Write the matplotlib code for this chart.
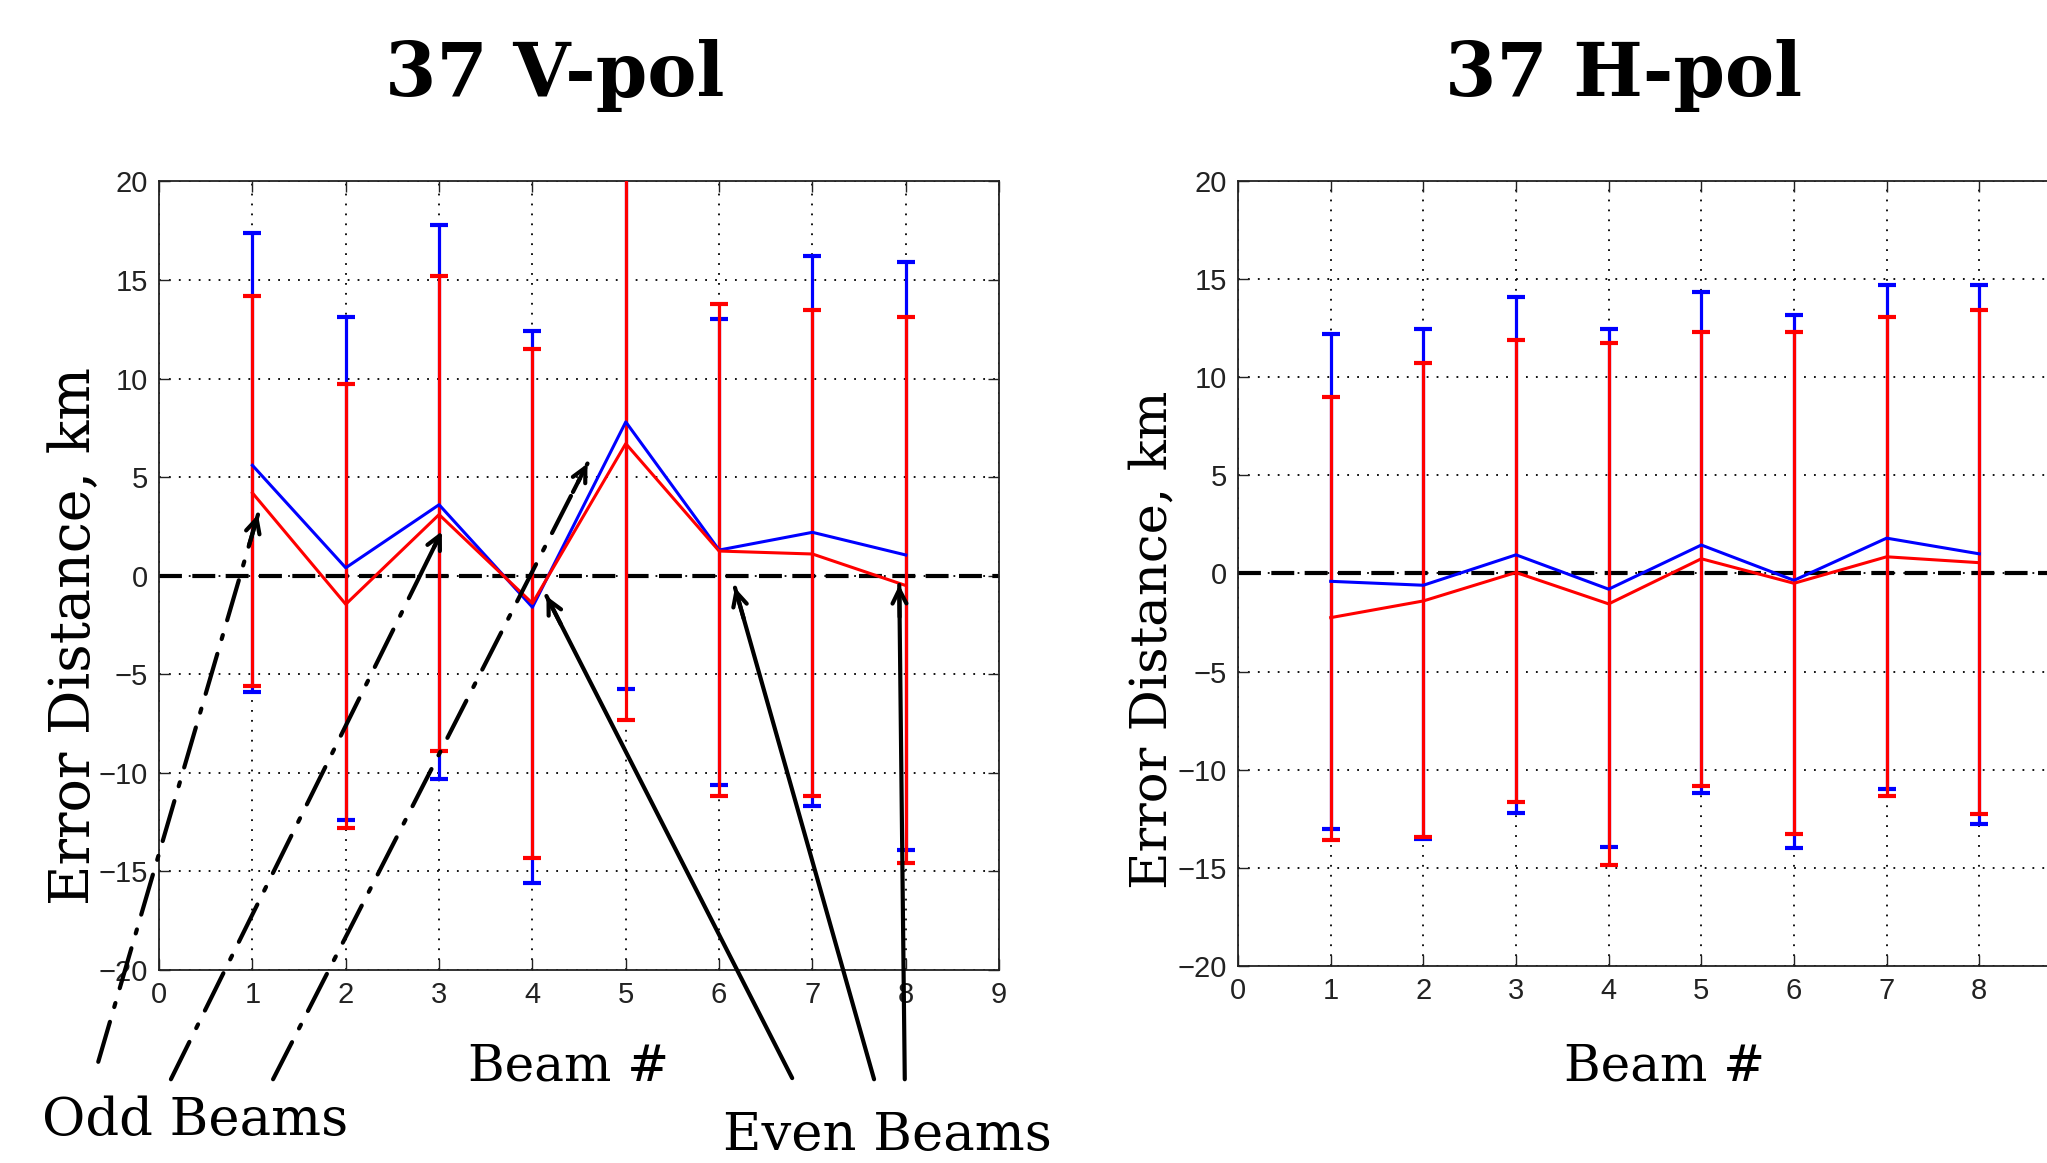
import numpy as np
import matplotlib
matplotlib.use('Agg')
import matplotlib.pyplot as plt

# Beam numbers (x axis)
beams = np.array([1, 2, 3, 4, 5, 6, 7, 8])

# 37 V-pol: mean error and error bar ends (km)
v_blue_mean = [5.6, 0.4, 3.6, -1.6, 7.8, 1.3, 2.2, 1.05]
v_blue_low = [-5.9, -12.4, -10.3, -15.6, -5.75, -10.6, -11.7, -13.9]
v_blue_high = [17.4, 13.1, 17.8, 12.4, 21.3, 13.0, 16.2, 15.9]
v_red_mean = [4.2, -1.45, 3.1, -1.4, 6.7, 1.25, 1.1, -0.5]
v_red_low = [-5.6, -12.8, -8.9, -14.3, -7.3, -11.2, -11.2, -14.6]
v_red_high = [14.2, 9.7, 15.2, 11.5, 20.6, 13.8, 13.5, 13.1]

# 37 H-pol
h_blue_mean = [-0.4, -0.6, 0.95, -0.8, 1.45, -0.35, 1.8, 1.0]
h_blue_low = [-13.0, -13.55, -12.2, -13.95, -11.2, -14.0, -11.0, -12.75]
h_blue_high = [12.2, 12.45, 14.1, 12.45, 14.35, 13.15, 14.7, 14.7]
h_red_mean = [-2.25, -1.4, 0.05, -1.55, 0.75, -0.5, 0.85, 0.55]
h_red_low = [-13.6, -13.45, -11.65, -14.85, -10.85, -13.25, -11.35, -12.25]
h_red_high = [9.0, 10.7, 11.9, 11.75, 12.3, 12.3, 13.05, 13.4]

# x tick labels (the 9 of the H-pol panel falls off the picture)
v_xlabels = ['0', '1', '2', '3', '4', '5', '6', '7', '8', '9']
h_xlabels = ['0', '1', '2', '3', '4', '5', '6', '7', '8', '']

# annotation arrows (heads in data coords of the V-pol panel, tails in figure fraction)
odd_heads = [(1.06, 3.1), (3.03, 2.25), (4.59, 5.69)]
odd_tails = [(0.048, 0.087), (0.0835, 0.072), (0.1334, 0.072)]
even_heads = [(4.15, -1.03), (6.17, -0.61), (7.93, -0.47)]
even_tails = [(0.387, 0.073), (0.427, 0.072), (0.442, 0.072)]

serif = ['DejaVu Serif']
tickfont = ['Liberation Sans Narrow', 'Liberation Sans', 'DejaVu Sans']

fig = plt.figure(figsize=(20.47, 11.63), dpi=100)
ax1 = fig.add_axes([0.0777, 0.166, 0.4104, 0.678])
ax2 = fig.add_axes([0.6048, 0.1694, 0.4074, 0.675])


def draw_panel(ax, blue, red, xlabels):
    for (mean, lo, hi), col in ((blue, 'b'), (red, 'r')):
        mean = np.array(mean)
        err = [mean - np.array(lo), np.array(hi) - mean]
        ax.errorbar(beams, mean, yerr=err, color=col, lw=2.2, elinewidth=2.3,
                    capsize=6.5, capthick=3, zorder=3)
    ax.axhline(0, color='k', ls=(0, (5.5, 2.5)), lw=3, zorder=2)
    ax.set_xlim(0, 9)
    ax.set_ylim(-20, 20)
    ax.set_xticks(range(10))
    ax.set_xticklabels(xlabels)
    ax.set_yticks(range(-20, 21, 5))
    ax.grid(True, color='k', ls=(0, (1, 4.5)), lw=1.3)
    ax.tick_params(direction='in', length=8, width=1, top=True, right=True,
                   labelsize=21, pad=8, colors='#222222')
    for lab in ax.get_xticklabels() + ax.get_yticklabels():
        lab.set_family(tickfont)
    for sp in ax.spines.values():
        sp.set_linewidth(1.3)
        sp.set_color('#222222')


draw_panel(ax1, (v_blue_mean, v_blue_low, v_blue_high),
           (v_red_mean, v_red_low, v_red_high), v_xlabels)
draw_panel(ax2, (h_blue_mean, h_blue_low, h_blue_high),
           (h_red_mean, h_red_low, h_red_high), h_xlabels)

ax1.set_ylabel('Error Distance, km', family=serif, fontsize=40)
ax1.yaxis.set_label_coords(-0.068, 0.423)
ax2.set_ylabel('Error Distance, km', family=serif, fontsize=37)
ax2.yaxis.set_label_coords(-0.072, 0.415)
ax1.set_xlabel('Beam #', family=serif, fontsize=36)
ax1.xaxis.set_label_coords(0.487, -0.091)
ax2.set_xlabel('Beam #', family=serif, fontsize=36)
ax2.xaxis.set_label_coords(0.512, -0.097)

fig.text(0.271, 0.935, '37 V-pol', family=serif, fontweight='bold', fontsize=53,
         ha='center', va='center')
fig.text(0.793, 0.935, '37 H-pol', family=serif, fontweight='bold', fontsize=53,
         ha='center', va='center')

fig.text(0.0205, 0.024, 'Odd Beams', family=serif, fontsize=38, ha='left', va='baseline')
fig.text(0.353, 0.011, 'Even Beams', family=serif, fontsize=38, ha='left', va='baseline')


def arrow(ax, head, tail, ls):
    hd = ax.transData.transform(head)
    tl = fig.transFigure.transform(tail)
    d = tl - hd
    d = d / np.hypot(*d) * 32
    ax.annotate('', xy=head, xycoords='data', xytext=tail, textcoords='figure fraction',
                arrowprops=dict(arrowstyle='-', color='k', lw=3, ls=ls,
                                shrinkA=0, shrinkB=0),
                annotation_clip=False, zorder=5)
    ax.annotate('', xy=head, xycoords='data', xytext=(d[0], d[1]), textcoords='offset pixels',
                arrowprops=dict(arrowstyle='->,head_length=1.0,head_width=0.5', color='k',
                                lw=3, shrinkA=0, shrinkB=0),
                annotation_clip=False, zorder=5)


for h, t in zip(odd_heads, odd_tails):
    arrow(ax1, h, t, (0, (10, 3.7, 1, 3.7)))
for h, t in zip(even_heads, even_tails):
    arrow(ax1, h, t, '-')

fig.savefig('out.png', dpi=100)
